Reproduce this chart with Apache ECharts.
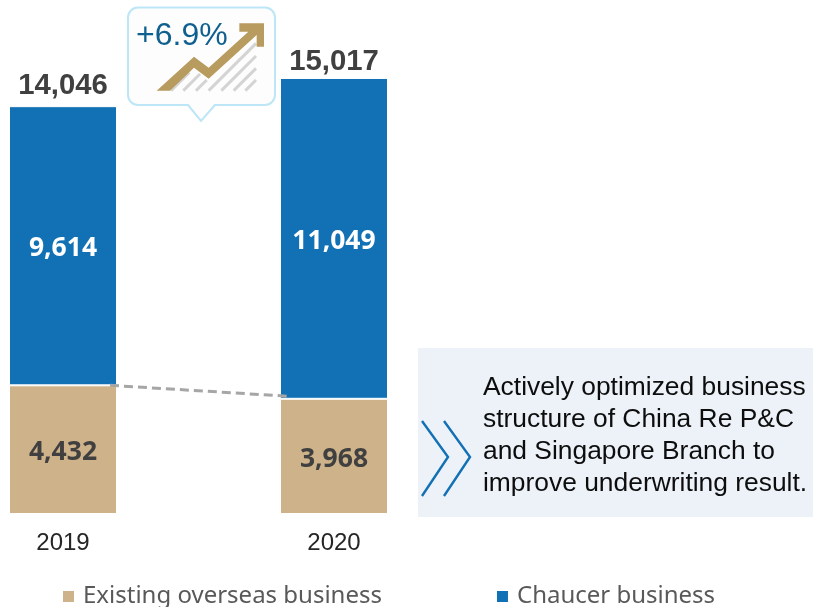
<!DOCTYPE html>
<html>
<head>
<meta charset="utf-8">
<style>html,body{margin:0;padding:0;background:#fff}#c{width:813px;height:607px}</style>
<script src="https://cdn.jsdelivr.net/npm/echarts@6/dist/echarts.min.js"></script>
</head>
<body>
<div id="c"></div>
<script>
const categories = ['2019', '2020'];
const existing = [4432, 3968];
const chaucer = [9614, 11049];
const totals = [14046, 15017];
const names = ['Existing overseas business', 'Chaucer business'];
const growth = '+6.9%';
const note = 'Actively optimized business\nstructure of China Re P&C\nand Singapore Branch to\nimprove underwriting result.';

const ARIAL = '"Liberation Sans", Arial, sans-serif';
const NOTO = '"Noto Sans", "Open Sans", sans-serif';
const fmt = p => Number(p.value).toLocaleString('en-US');
const bar = (name, data, color, labelColor) => ({
  name, data, type: 'bar', stack: 'a', barWidth: 108, clip: false,
  itemStyle: { color, borderColor: '#fff', borderWidth: 1 },
  label: { show: true, position: 'inside', offset: [0, 3], color: labelColor, fontFamily: NOTO, fontWeight: 'bold', fontSize: 26.5, formatter: fmt }
});
// callout art, expressed in the crop coordinates of the icon
const zx = v => 120 + v / 3, zy = v => v / 3;
const zp = pts => pts.map(p => [zx(p[0]), zy(p[1])]);
const hatch = [[153,272,208,217],[190,272,240,222],[228,272,260,240],[266,272,408,130],[304,272,408,168],[341,272,408,205],[376,272,408,240]];

const chart = echarts.init(document.getElementById('c'), null, { renderer: 'canvas' });
chart.setOption({
  animation: false,
  grid: { left: 63, width: 271, top: 20.4, height: 493.6, containLabel: false },
  xAxis: {
    type: 'category', data: categories, boundaryGap: false,
    axisLine: { show: false }, axisTick: { show: false },
    axisLabel: { color: '#262626', fontFamily: ARIAL, fontSize: 24, margin: 17, hideOverlap: false }
  },
  yAxis: { type: 'value', min: 0, max: 17000, show: false, splitLine: { show: false } },
  legend: {
    data: names, left: 56, top: 579.5, icon: 'rect', itemWidth: 13, itemHeight: 13, itemGap: 113,
    textStyle: { color: '#595959', fontFamily: NOTO, fontSize: 24, padding: [0, 0, 0, 3] }
  },
  series: [
    bar(names[0], existing, '#CEB28A', '#404040'),
    bar(names[1], chaucer, '#1270B5', '#ffffff'),
    {
      name: 'Total', type: 'line', symbol: 'circle', symbolSize: 1,
      data: totals.map((v, i) => ({ value: v, label: { distance: i ? 1 : 5 } })),
      itemStyle: { color: 'rgba(0,0,0,0)' }, lineStyle: { opacity: 0 },
      label: {
        show: true, position: 'top', color: '#404040',
        fontFamily: ARIAL, fontWeight: 'bold', fontSize: 29.3, formatter: fmt
      }
    },
    {
      name: 'Connector', type: 'custom', z: 5, silent: true,
      data: existing.map((v, i) => [i, v]),
      renderItem: (params, api) => {
        if (params.dataIndex !== 0) return null;
        const a = api.coord([0, existing[0]]), b = api.coord([1, existing[1]]);
        return {
          type: 'line',
          shape: { x1: a[0] + 47, y1: a[1], x2: b[0] - 45, y2: b[1] - 2.5 },
          style: { stroke: '#A6A6A6', lineWidth: 3, lineDash: [9, 5] }
        };
      }
    }
  ],
  graphic: [
    { type: 'rect', shape: { x: 418, y: 348, width: 395, height: 169 }, style: { fill: '#EDF2F9' }, z: 1 },
    { type: 'polyline', shape: { points: [[422, 421], [448, 457], [422, 496]] }, style: { stroke: '#1270B5', lineWidth: 2.4, fill: 'none' }, z: 2 },
    { type: 'polyline', shape: { points: [[444, 421], [470, 457], [444, 496]] }, style: { stroke: '#1270B5', lineWidth: 2.4, fill: 'none' }, z: 2 },
    { type: 'text', x: 483, y: 371.5, z: 3, style: { text: note, fill: '#0D0D0D', font: '26.4px ' + ARIAL, lineHeight: 32 } },
    { type: 'rect', z: 2, shape: { x: 128, y: 7.5, width: 147, height: 97.5, r: 10 }, style: { fill: '#FDFDFD', stroke: '#BDE6F7', lineWidth: 2 } },
    { type: 'polygon', z: 2, shape: { points: [[188, 103.5], [215, 103.5], [201, 120]] }, style: { fill: '#FDFDFD' } },
    { type: 'polyline', z: 2, shape: { points: [[188, 105], [201, 121], [215, 105]] }, style: { stroke: '#BDE6F7', lineWidth: 2, fill: 'none' } },
    ...hatch.map(h => ({
      type: 'line', z: 3,
      shape: { x1: zx(h[0]), y1: zy(h[1]), x2: zx(h[2]), y2: zy(h[3]) },
      style: { stroke: '#D4D4D4', lineWidth: 3 }
    })),
    {
      type: 'polygon', z: 4,
      shape: { points: zp([[110,272],[222,170],[266,203],[385,95],[358,95],[358,70],[432,70],[432,140],[410,140],[410,105],[266,236],[222,203],[150,272]]) },
      style: { fill: '#B89B5E' }
    },
    { type: 'text', x: 136, y: 20.5, z: 5, style: { text: growth, fill: '#0F5F8F', font: '32px ' + ARIAL } }
  ]
});
</script>
</body>
</html>
